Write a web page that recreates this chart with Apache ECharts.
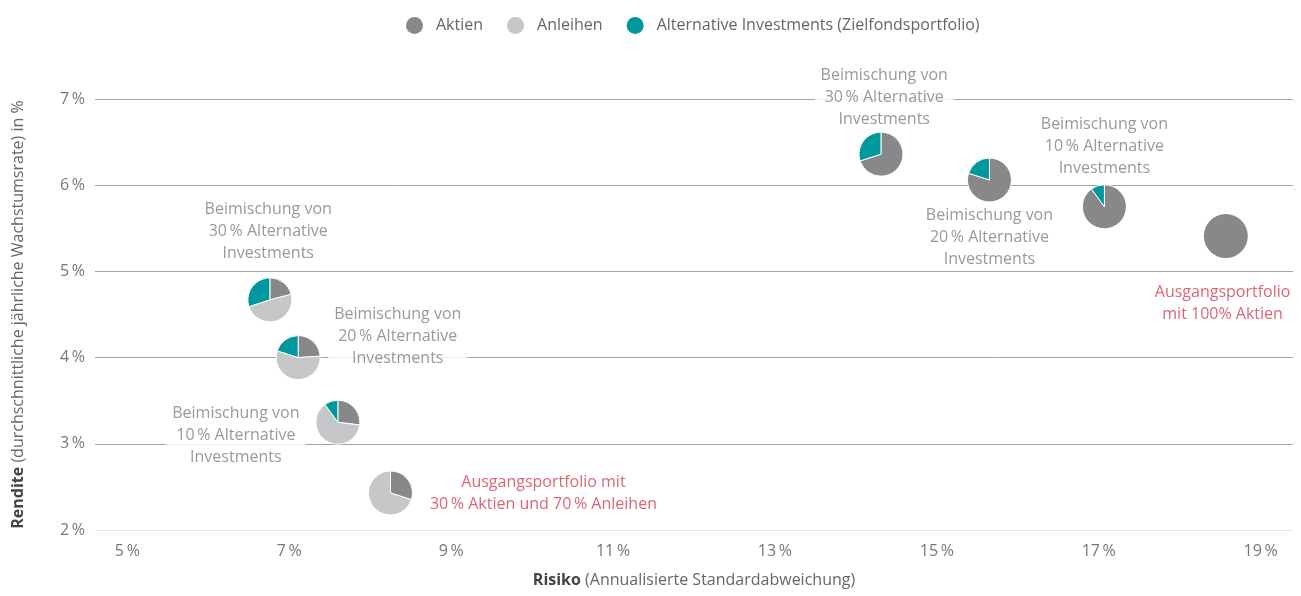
<!DOCTYPE html>
<html>
<head>
<meta charset="utf-8">
<script src="https://cdn.jsdelivr.net/npm/echarts@6.0.0/dist/echarts.min.js"></script>
<style>
  html, body { margin: 0; padding: 0; background: #fff; }
  #chart { width: 1301px; height: 596px; }
</style>
</head>
<body>
<div id="chart"></div>
<script>
// Portfolios: 30/70 base + admixtures, then 100 % equity base + admixtures
const risiko = [8.25, 7.60, 7.11, 6.76, 18.57, 17.07, 15.65, 14.31];
const rendite = [2.43, 3.25, 4.00, 4.67, 5.41, 5.75, 6.06, 6.36];
const aktien = [30, 27, 24, 21, 100, 90, 80, 70];
const anleihen = [70, 63, 56, 49, 0, 0, 0, 0];
const alternative = [0, 10, 20, 30, 0, 10, 20, 30];
const anteilNamen = ['Aktien', 'Anleihen', 'Alternative Investments (Zielfondsportfolio)'];
const xTicks = [5, 7, 9, 11, 13, 15, 17, 19];

// annotations (text + where they sit, in axis units)
const notes = [
  'Ausgangsportfolio mit\n30\u2009% Aktien und 70\u2009% Anleihen',
  'Beimischung von\n10\u2009% Alternative\nInvestments',
  'Beimischung von\n20\u2009% Alternative\nInvestments',
  'Beimischung von\n30\u2009% Alternative\nInvestments',
  'Ausgangsportfolio\nmit 100% Aktien',
  'Beimischung von\n10\u2009% Alternative\nInvestments',
  'Beimischung von\n20\u2009% Alternative\nInvestments',
  'Beimischung von\n30\u2009% Alternative\nInvestments'
];
const noteRisiko = [10.14, 6.34, 8.34, 6.74, 18.53, 17.07, 15.65, 14.35];
const noteRendite = [2.42, 3.10, 4.25, 5.46, 4.63, 6.455, 5.39, 7.02];
const noteRot = [true, false, false, false, true, false, false, false];

const colors = ['#87888a', '#c6c7c8', '#00979d'];
const anteile = [aktien, anleihen, alternative];
const FONT = '"Open Sans", "Noto Sans", sans-serif';

function sliceData(k) {
  return risiko.map(function (x, i) {
    let start = 0;
    for (let j = 0; j < k; j++) start += anteile[j][i];
    return [x, rendite[i], start, anteile[k][i]];
  });
}

function renderSlice(params, api) {
  const share = api.value(3) / 100;
  if (share <= 0) return;
  const c = api.coord([api.value(0), api.value(1)]);
  const a0 = -Math.PI / 2 + api.value(2) / 100 * 2 * Math.PI;
  if (share >= 0.999) {
    return {
      type: 'circle',
      shape: { cx: c[0], cy: c[1], r: 22 },
      style: { fill: api.visual('color') }
    };
  }
  return {
    type: 'sector',
    shape: {
      cx: c[0], cy: c[1], r: 22, r0: 0,
      startAngle: a0, endAngle: a0 + share * 2 * Math.PI, clockwise: true
    },
    style: { fill: api.visual('color'), stroke: '#fff', lineWidth: 1 }
  };
}

const series = anteilNamen.map(function (name, k) {
  return {
    name: name,
    type: 'custom',
    z: 5,
    itemStyle: { color: colors[k] },
    renderItem: renderSlice,
    encode: { x: 0, y: 1 },
    data: sliceData(k)
  };
});

series.push({
  name: 'notes',
  type: 'scatter',
  silent: true,
  clip: false,
  z: 3,
  symbolSize: 0,
  data: notes.map(function (t, i) {
    const d = [noteRisiko[i], noteRendite[i]];
    return noteRot[i] ? { value: d, label: { color: '#d2404f' } } : d;
  }),
  label: {
    show: true,
    position: 'inside',
    fontFamily: FONT,
    fontSize: 16,
    lineHeight: 22,
    backgroundColor: '#fff',
    padding: [0, 6],
    formatter: function (p) { return notes[p.dataIndex]; },
    color: '#808080'
  },
  labelLayout: { hideOverlap: false }
});

const chart = echarts.init(document.getElementById('chart'));
chart.setOption({
  animation: false,
  textStyle: { fontFamily: FONT },
  legend: {
    data: anteilNamen,
    top: 12,
    left: 401,
    icon: 'circle',
    itemWidth: 17,
    itemHeight: 17,
    itemGap: 24,
    textStyle: { fontFamily: FONT, fontSize: 16, color: '#666', padding: [0, 0, 0, 8] }
  },
  grid: { left: 95, right: 8, top: 99, bottom: 66 },
  xAxis: {
    type: 'value',
    min: 4.6,
    max: 19.4,
    name: '{b|Risiko} (Annualisierte Standardabweichung)',
    nameLocation: 'middle',
    nameGap: 42,
    nameTextStyle: {
      fontFamily: FONT, fontSize: 16, color: '#666',
      rich: { b: { fontFamily: FONT, fontSize: 16, fontWeight: 'bold', color: '#444' } }
    },
    axisLine: { lineStyle: { color: '#e6e6e6' } },
    axisTick: { show: false },
    splitLine: { show: false },
    axisLabel: {
      customValues: xTicks,
      margin: 13,
      fontSize: 16,
      color: '#777',
      formatter: function (v) { return v + '\u2009%'; }
    }
  },
  yAxis: {
    type: 'value',
    min: 2,
    max: 7,
    interval: 1,
    name: '{b|Rendite} (durchschnittliche jährliche Wachstumsrate) in %',
    nameLocation: 'middle',
    nameGap: 69,
    nameTextStyle: {
      fontFamily: FONT, fontSize: 16, color: '#666',
      rich: { b: { fontFamily: FONT, fontSize: 16, fontWeight: 'bold', color: '#444' } }
    },
    axisLine: { show: false },
    axisTick: { show: false },
    splitLine: { showMinLine: false, lineStyle: { color: '#a3a3a3' } },
    axisLabel: {
      margin: 10,
      fontSize: 16,
      color: '#777',
      formatter: function (v) { return v + '\u2009%'; }
    }
  },
  series: series
});
</script>
</body>
</html>
